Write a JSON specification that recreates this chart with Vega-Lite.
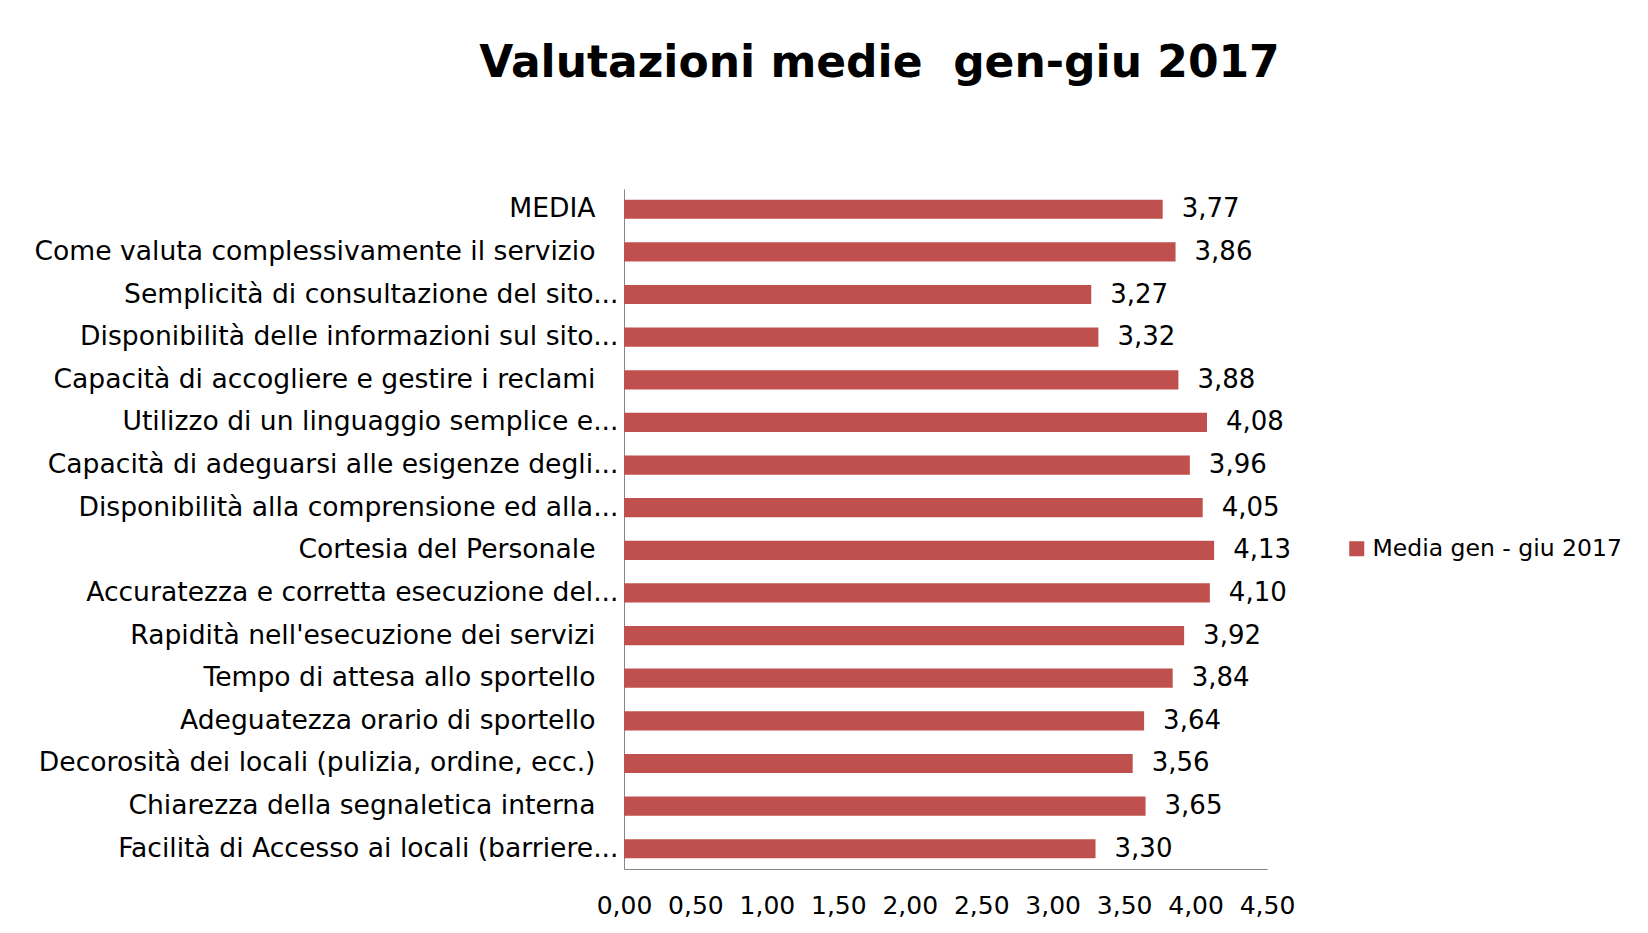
{
  "$schema": "https://vega.github.io/schema/vega-lite/v6.json",
  "autosize": {"type": "none"},
  "padding": {"left": 624, "top": 189, "right": 381, "bottom": 64},
  "width": 643,
  "height": 680,
  "background": "white",
  "title": {
    "text": "Valutazioni medie \u00a0gen-giu 2017",
    "font": "DejaVu Sans",
    "fontSize": 44,
    "fontWeight": "bold",
    "color": "black",
    "anchor": "middle",
    "dx": -66,
    "offset": 103
  },
  "data": {
    "values": [
      {"voce": "MEDIA", "valore": 3.77, "serie": "Media gen - giu 2017"},
      {"voce": "Come valuta complessivamente il servizio", "valore": 3.86, "serie": "Media gen - giu 2017"},
      {"voce": "Semplicità di consultazione del sito...", "valore": 3.27, "serie": "Media gen - giu 2017"},
      {"voce": "Disponibilità delle informazioni sul sito...", "valore": 3.32, "serie": "Media gen - giu 2017"},
      {"voce": "Capacità di accogliere e gestire i reclami", "valore": 3.88, "serie": "Media gen - giu 2017"},
      {"voce": "Utilizzo di un linguaggio semplice e...", "valore": 4.08, "serie": "Media gen - giu 2017"},
      {"voce": "Capacità di adeguarsi alle esigenze degli...", "valore": 3.96, "serie": "Media gen - giu 2017"},
      {"voce": "Disponibilità alla comprensione ed alla...", "valore": 4.05, "serie": "Media gen - giu 2017"},
      {"voce": "Cortesia del Personale", "valore": 4.13, "serie": "Media gen - giu 2017"},
      {"voce": "Accuratezza e corretta esecuzione del...", "valore": 4.10, "serie": "Media gen - giu 2017"},
      {"voce": "Rapidità nell'esecuzione dei servizi", "valore": 3.92, "serie": "Media gen - giu 2017"},
      {"voce": "Tempo di attesa allo sportello", "valore": 3.84, "serie": "Media gen - giu 2017"},
      {"voce": "Adeguatezza orario di sportello", "valore": 3.64, "serie": "Media gen - giu 2017"},
      {"voce": "Decorosità dei locali (pulizia, ordine, ecc.)", "valore": 3.56, "serie": "Media gen - giu 2017"},
      {"voce": "Chiarezza della segnaletica interna", "valore": 3.65, "serie": "Media gen - giu 2017"},
      {"voce": "Facilità di Accesso ai locali (barriere...", "valore": 3.30, "serie": "Media gen - giu 2017"}
    ]
  },
  "encoding": {
    "y": {
      "field": "voce",
      "type": "nominal",
      "sort": null,
      "scale": {"paddingInner": 0.55, "paddingOuter": 0.25},
      "axis": {
        "title": null,
        "ticks": false,
        "domainColor": "#868686",
        "labelFont": "DejaVu Sans",
        "labelFontSize": 26.6,
        "labelColor": "black",
        "labelLimit": 700,
        "labelPadding": {"condition": {"test": "indexof(datum.value, '...') >= 0", "value": 6}, "value": 29}
      }
    },
    "x": {
      "field": "valore",
      "type": "quantitative",
      "scale": {"domain": [0, 4.5], "nice": false},
      "axis": {
        "title": null,
        "values": [0, 0.5, 1, 1.5, 2, 2.5, 3, 3.5, 4, 4.5],
        "format": ".2f",
        "grid": false,
        "ticks": false,
        "domainColor": "#868686",
        "labelFont": "DejaVu Sans",
        "labelFontSize": 25,
        "labelColor": "black",
        "labelPadding": 24,
        "labelFlush": false,
        "labelOverlap": false
      }
    }
  },
  "layer": [
    {
      "mark": {"type": "bar"},
      "encoding": {
        "color": {
          "field": "serie",
          "type": "nominal",
          "scale": {"range": ["#C0504D"]},
          "legend": {
            "title": null,
            "orient": "none",
            "legendX": 721,
            "legendY": 348,
            "symbolType": "square",
            "symbolSize": 225,
            "symbolStrokeWidth": 0,
            "labelFont": "DejaVu Sans",
            "labelFontSize": 23.5,
            "labelColor": "black",
            "labelOffset": 4,
            "labelLimit": 400
          }
        }
      }
    },
    {
      "mark": {"type": "text", "align": "left", "baseline": "middle", "dx": 19, "font": "DejaVu Sans", "fontSize": 26, "color": "black"},
      "encoding": {
        "text": {"field": "valore", "type": "quantitative", "format": ".2f"}
      }
    }
  ],
  "config": {
    "view": {"stroke": null},
    "locale": {
      "number": {"decimal": ",", "thousands": ".", "grouping": [3], "currency": ["€", ""]}
    }
  }
}
